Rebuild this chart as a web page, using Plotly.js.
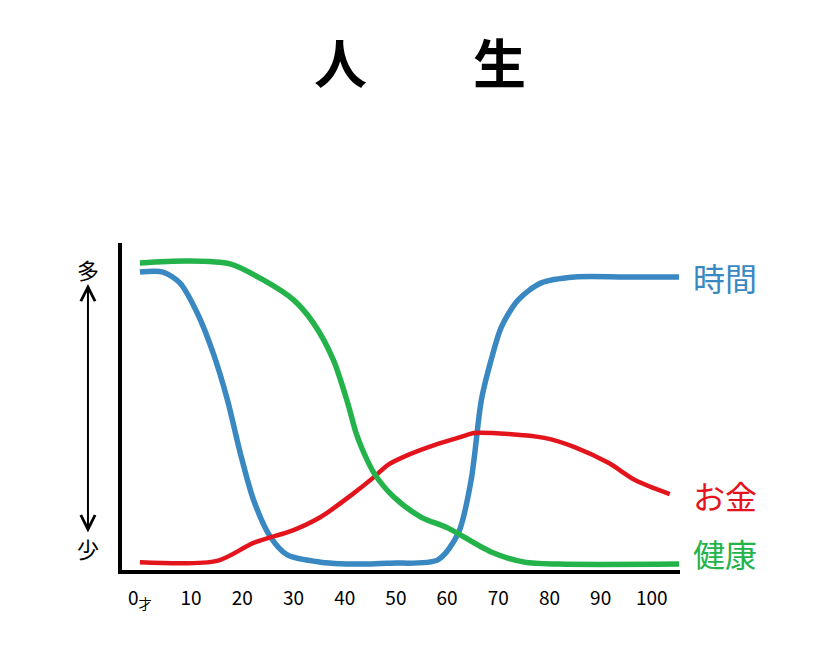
<!DOCTYPE html>
<html>
<head>
<meta charset="utf-8">
<script src="https://cdn.plot.ly/plotly-3.0.1.min.js"></script>
<style>html,body{margin:0;padding:0;background:#fff;}#chart{width:840px;height:656px;}</style>
</head>
<body>
<div id="chart"></div>
<script>
// Age (years) and relative amount (0 = 少, 100 = 多)
const timeAge   = [0, 4.5, 7.8, 11.2, 14.3, 17.1, 19.6, 22.2, 25.5, 28.8, 35.3, 44.5, 49.0, 58.2, 62.2, 64.7, 66.7, 68.6, 70.6, 73.9, 78.4, 84.9, 94.7, 105.3];
const timeVal   = [91.1, 91.1, 87.8, 78.6, 66.4, 52.0, 35.8, 21.4, 10.1, 4.6, 2.4, 1.8, 2.1, 3.1, 11.3, 27.5, 52.0, 64.2, 74.3, 82.6, 87.8, 89.6, 89.6, 89.6];

const moneyAge  = [0, 15.1, 22.2, 30.0, 35.3, 41.8, 45.7, 48.4, 52.4, 57.5, 62.7, 65.3, 72.0, 79.0, 84.9, 91.6, 96.7, 103.5];
const moneyVal  = [2.4, 2.8, 8.3, 12.2, 16.2, 23.5, 28.4, 32.1, 35.2, 38.2, 40.7, 41.9, 41.6, 40.4, 37.6, 32.7, 27.5, 23.2];

const healthAge = [0, 9.2, 17.6, 24.1, 30.0, 33.9, 37.8, 40.6, 42.2, 43.5, 45.7, 49.6, 54.9, 60.2, 68.6, 75.1, 81.8, 105.3];
const healthVal = [93.9, 94.5, 93.6, 88.7, 82.6, 75.5, 64.2, 51.0, 42.0, 36.7, 29.7, 22.3, 16.2, 12.8, 5.5, 2.4, 1.8, 1.8];

const tickVals  = [0, 10, 20, 30, 40, 50, 60, 70, 80, 90, 100];
const tickText  = ['0<sub>才</sub>', '10', '20', '30', '40', '50', '60', '70', '80', '90', '100'];

const seriesNames = ['時間', 'お金', '健康'];
const seriesColors = ['#3a88c2', '#e3141c', '#24b34a'];

const cjk = '"Noto Sans CJK JP", "Noto Sans", sans-serif';

const traces = [
  {x: timeAge, y: timeVal, name: seriesNames[0], mode: 'lines', line: {color: seriesColors[0], width: 5.5, shape: 'spline', smoothing: 0.8}},
  {x: moneyAge, y: moneyVal, name: seriesNames[1], mode: 'lines', line: {color: seriesColors[1], width: 4.5, shape: 'spline', smoothing: 0.8}},
  {x: healthAge, y: healthVal, name: seriesNames[2], mode: 'lines', line: {color: seriesColors[2], width: 5.5, shape: 'spline', smoothing: 0.8}}
];

const endLabelY = [timeVal[timeVal.length-1], moneyVal[moneyVal.length-1] - 0.3, healthVal[healthVal.length-1] + 3.4];

const annotations = seriesNames.map((n, i) => ({
  xref: 'paper', yref: 'y', x: 1.02, y: endLabelY[i], text: n,
  xanchor: 'left', yanchor: 'middle', showarrow: false,
  font: {family: cjk, size: 32, color: seriesColors[i]}
}));

annotations.push(
  {xref: 'paper', yref: 'paper', x: -0.061, y: 0.92, text: '多', showarrow: false, xanchor: 'center', yanchor: 'middle', font: {family: cjk, size: 22, color: '#000'}},
  {xref: 'paper', yref: 'paper', x: -0.061, y: 0.067, text: '少', showarrow: false, xanchor: 'center', yanchor: 'middle', font: {family: cjk, size: 22, color: '#000'}},
  {xref: 'paper', yref: 'paper', x: -0.061, y: 0.875, ax: 0, ay: 250, text: '', showarrow: true,
   arrowhead: 5, startarrowhead: 5, arrowside: 'end+start', arrowsize: 1.4, arrowwidth: 2, arrowcolor: '#000'}
);

const layout = {
  width: 840, height: 656,
  margin: {l: 122, r: 160, t: 243, b: 86},
  paper_bgcolor: '#fff', plot_bgcolor: '#fff',
  showlegend: false,
  title: {text: '人　　生', x: 0.5, xref: 'container', xanchor: 'center', y: 0.9, yref: 'container', yanchor: 'middle',
          font: {family: cjk, size: 53, color: '#000', weight: 'bold'}},
  xaxis: {range: [-3.5, 105.5], showgrid: false, zeroline: false, showline: true, linecolor: '#000', linewidth: 4,
          tickmode: 'array', tickvals: tickVals, ticktext: tickText, ticks: '', ticklabelstandoff: 8,
          tickfont: {family: cjk, size: 19, color: '#000'}, fixedrange: true},
  yaxis: {range: [0, 100], showgrid: false, zeroline: false, showline: true, linecolor: '#000', linewidth: 4,
          showticklabels: false, ticks: '', fixedrange: true},
  annotations: annotations
};

Plotly.newPlot('chart', traces, layout, {displayModeBar: false, staticPlot: true});
</script>
</body>
</html>
